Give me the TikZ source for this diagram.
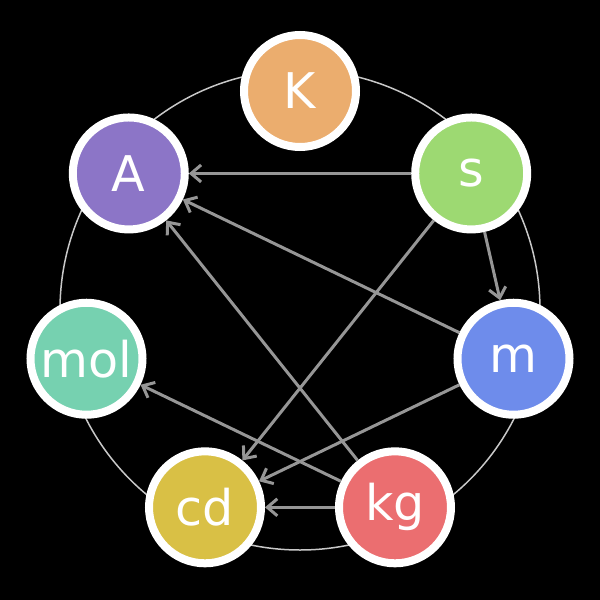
\documentclass[tikz,border=0pt]{standalone}
\usepackage{fontspec}
\setmainfont{DejaVu Sans}
\usetikzlibrary{arrows.meta}

\definecolor{ringgray}{RGB}{200,200,200}
\definecolor{linkgray}{RGB}{150,150,150}
\definecolor{colK}{RGB}{235,173,110}
\definecolor{colS}{RGB}{157,217,114}
\definecolor{colM}{RGB}{110,140,235}
\definecolor{colKg}{RGB}{235,110,112}
\definecolor{colCd}{RGB}{217,192,69}
\definecolor{colMol}{RGB}{118,209,176}
\definecolor{colA}{RGB}{140,117,199}

\tikzset{
  unit/.style={circle, draw=white, line width=0.16cm, minimum size=2.24cm, inner sep=0pt,
    text=white, font=\fontsize{28}{34}\selectfont},
  link/.style={draw=linkgray, line width=0.06cm, -{Straight Barb[length=0.2cm,width=0.34cm]}}
}

\begin{document}
\begin{tikzpicture}
    \fill[black] (-6,-6) rectangle (6,6);
    \useasboundingbox (-6,-6) rectangle (6,6);
    \begin{scope}[shift={(0,-0.2)}]
      % outer ring
      \draw[ringgray, line width=0.03cm] (0,0) circle (4.8);
      % base units
      \node[unit, fill=colK]   (K)   at (90:4.38)      {K};
      \node[unit, fill=colS]   (s)   at (38.57:4.38)   {s};
      \node[unit, fill=colM]   (m)   at (-12.86:4.38)  {m};
      \node[unit, fill=colKg]  (kg)  at (-64.29:4.38)  {kg};
      \node[unit, fill=colCd]  (cd)  at (-115.71:4.38) {cd};
      \node[unit, fill=colMol] (mol) at (-167.14:4.38) {mol};
      \node[unit, fill=colA]   (A)   at (141.43:4.38)  {A};
      % dependencies
      \draw[link] (s) -- (A);
      \draw[link] (s) -- (m);
      \draw[link] (s) -- (cd);
      \draw[link] (m) -- (A);
      \draw[link] (m) -- (cd);
      \draw[link] (kg) -- (A);
      \draw[link] (kg) -- (cd);
      \draw[link] (kg) -- (mol);
    \end{scope}
  \end{tikzpicture}
\end{document}
